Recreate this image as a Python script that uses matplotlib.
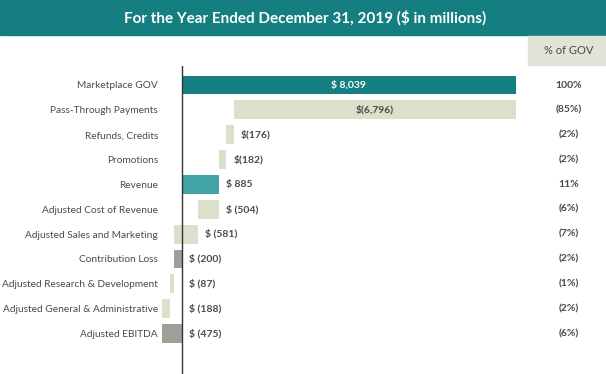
import numpy as np
import matplotlib.pyplot as plt
from matplotlib.patches import Rectangle

plt.rcParams['font.family'] = ['Lato', 'DejaVu Sans']

categories = ['Marketplace GOV', 'Pass-Through Payments', 'Refunds, Credits', 'Promotions',
              'Revenue', 'Adjusted Cost of Revenue', 'Adjusted Sales and Marketing',
              'Contribution Loss', 'Adjusted Research & Development',
              'Adjusted General & Administrative', 'Adjusted EBITDA']
# signed amounts, $ millions
amounts = [8039, -6796, -176, -182, 885, -504, -581, -200, -87, -188, -475]
# 'total' bars start at zero, 'step' bars continue from the running total
kinds = ['total', 'step', 'step', 'step', 'total', 'step', 'step', 'total', 'step', 'step', 'total']
value_labels = ['$ 8,039', '$(6,796)', '$(176)', '$(182)', '$ 885', '$ (504)', '$ (581)',
                '$ (200)', '$ (87)', '$ (188)', '$ (475)']
pct_labels = ['100%', '(85%)', '(2%)', '(2%)', '11%', '(6%)', '(7%)', '(2%)', '(1%)', '(2%)', '(6%)']
title = 'For the Year Ended December 31, 2019 ($ in millions)'

TEAL = '#147e81'
TEAL_LIGHT = '#41a3a3'
BEIGE = '#dcdfca'
GRAY = '#a09f97'
TXT = '#4a4a4a'

W, H = 606, 374
fig = plt.figure(figsize=(W / 100, H / 100), dpi=100)

# header band and "% of GOV" box
fig.patches.append(Rectangle((0, 1 - 35 / H), 1, 35 / H, transform=fig.transFigure,
                             color=TEAL, zorder=0))
fig.text(305 / W, 1 - 17.5 / H, title, color='white', fontsize=11, fontweight='bold',
         ha='center', va='center')
fig.patches.append(Rectangle((528 / W, 1 - 65 / H), 78 / W, 29 / H, transform=fig.transFigure,
                             color='#e3e3d8', zorder=0))
fig.text(569 / W, 1 - 51 / H, '% of GOV', color=TXT, fontsize=8, ha='center', va='center')

# plot area, pixel-fitted so x=0 sits at 182 px and 8039 reaches ~516 px
x0_px, scale = 182, 0.0415
left_px, right_px, top_px = 160, 530, 66
ax = fig.add_axes([left_px / W, 0, (right_px - left_px) / W, 1 - top_px / H])
ax.set_xlim((left_px - x0_px) / scale, (right_px - x0_px) / scale)
row0, step = 85, 24.85
ax.set_ylim((H - row0) / step, (top_px - row0) / step)
for s in ax.spines.values():
    s.set_visible(False)
ax.set_xticks([])

starts, widths = [], []
running = 0
for amt, kind in zip(amounts, kinds):
    if kind == 'total':
        start = 0
        running = amt
    else:
        start = running
        running = running + amt
    starts.append(start)
    widths.append(amt)
colors = [TEAL, BEIGE, BEIGE, BEIGE, TEAL_LIGHT, BEIGE, BEIGE, GRAY, BEIGE, BEIGE, GRAY]

y = np.arange(len(categories))
ax.barh(y, widths, left=starts, height=0.76, color=colors, zorder=2)
ax.axvline(0, color='#333333', lw=1, zorder=3)

ax.set_yticks(y)
ax.set_yticklabels(categories, fontsize=7.3, color=TXT)
ax.tick_params(axis='y', length=0, pad=1.5)

for i in range(len(categories)):
    s, w = starts[i], widths[i]
    right = max(s, s + w)
    if i == 0:
        ax.text(s + w / 2, i, value_labels[i], color='white', fontsize=7.5, fontweight='bold',
                ha='center', va='center', zorder=4)
    elif i == 1:
        ax.text(s + w / 2, i, value_labels[i], color=TXT, fontsize=7.5, fontweight='bold',
                ha='center', va='center', zorder=4)
    else:
        ax.annotate(value_labels[i], (max(right, 0), i), xytext=(5, 0), textcoords='offset points',
                    color=TXT, fontsize=7.5, fontweight='bold', ha='left', va='center', zorder=4)
    fig.text(569 / W, 1 - (row0 + i * step) / H, pct_labels[i], color=TXT, fontsize=7.5,
             fontweight='bold', ha='center', va='center')

fig.savefig('out.png', dpi=100)
